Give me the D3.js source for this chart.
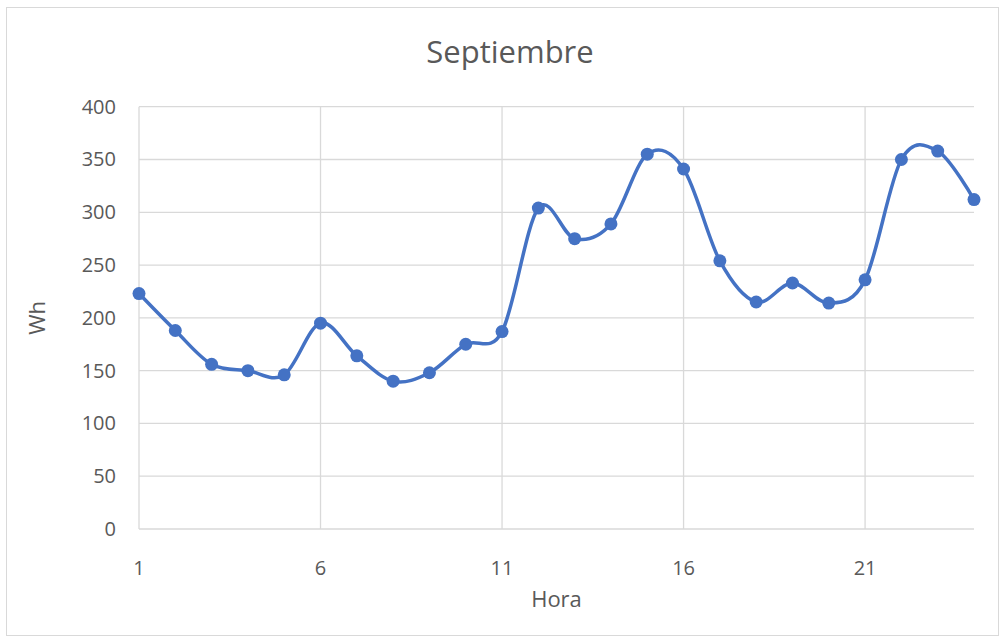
<!DOCTYPE html>
<html>
<head>
<meta charset="utf-8">
<script src="https://cdn.jsdelivr.net/npm/d3@7"></script>
<style>
  body { margin: 0; background: #fff; }
  svg text { font-family: "Open Sans", "Liberation Sans", sans-serif; fill: #595959; }
</style>
</head>
<body>
<svg id="container"></svg>
<script>
// horas del día y consumo medio en Wh (Septiembre)
const horas = d3.range(1, 25);
const wh = [223, 188, 156, 150, 146, 195, 164, 140, 148, 175, 187, 304,
            275, 289, 355, 341, 254, 215, 233, 214, 236, 350, 358, 312];
const xTicks = [1, 6, 11, 16, 21];
const yTicks = [0, 50, 100, 150, 200, 250, 300, 350, 400];

const width = 1005;
const height = 643;
const margin = { top: 106.7, right: 31, bottom: 114, left: 139 };

const svg = d3.select("#container")
    .attr("width", width)
    .attr("height", height);

// borde del gráfico
svg.append("rect")
    .attr("x", 6.5).attr("y", 7.5)
    .attr("width", width - 13).attr("height", height - 15)
    .attr("fill", "#fff")
    .attr("stroke", "#d9d9d9");

const x = d3.scaleLinear()
    .domain([1, 24])
    .range([margin.left, width - margin.right]);

const y = d3.scaleLinear()
    .domain([0, 400])
    .range([height - margin.bottom, margin.top]);

// rejilla horizontal
svg.append("g")
    .selectAll("line")
    .data(yTicks)
    .enter().append("line")
    .attr("x1", x(1)).attr("x2", x(24))
    .attr("y1", d => y(d)).attr("y2", d => y(d))
    .attr("stroke", "#d9d9d9")
    .attr("stroke-width", 1.3);

// rejilla vertical
svg.append("g")
    .selectAll("line")
    .data(xTicks)
    .enter().append("line")
    .attr("x1", d => x(d)).attr("x2", d => x(d))
    .attr("y1", y(0)).attr("y2", y(400))
    .attr("stroke", "#d9d9d9")
    .attr("stroke-width", 1.3);

// etiquetas eje y
svg.append("g")
    .selectAll("text")
    .data(yTicks)
    .enter().append("text")
    .attr("x", 116)
    .attr("y", d => y(d))
    .attr("dy", "0.35em")
    .attr("text-anchor", "end")
    .attr("font-size", 20)
    .text(d => d);

// etiquetas eje x
svg.append("g")
    .selectAll("text")
    .data(xTicks)
    .enter().append("text")
    .attr("x", d => x(d))
    .attr("y", 568)
    .attr("dy", "0.35em")
    .attr("text-anchor", "middle")
    .attr("font-size", 20)
    .text(d => d);

// títulos
svg.append("text")
    .attr("x", 510).attr("y", 52)
    .attr("dy", "0.35em")
    .attr("text-anchor", "middle")
    .attr("font-size", 31)
    .text("Septiembre");

svg.append("text")
    .attr("x", (x(1) + x(24)) / 2).attr("y", 599)
    .attr("dy", "0.35em")
    .attr("text-anchor", "middle")
    .attr("font-size", 22)
    .text("Hora");

svg.append("text")
    .attr("transform", `translate(37,${(y(0) + y(400)) / 2}) rotate(-90)`)
    .attr("dy", "0.35em")
    .attr("text-anchor", "middle")
    .attr("font-size", 22)
    .text("Wh");

// línea suavizada
const line = d3.line()
    .x((d, i) => x(horas[i]))
    .y(d => y(d))
    .curve(d3.curveCardinal.tension(0));

svg.append("path")
    .datum(wh)
    .attr("fill", "none")
    .attr("stroke", "#4472c4")
    .attr("stroke-width", 3.5)
    .attr("stroke-linejoin", "round")
    .attr("d", line);

svg.append("g")
    .selectAll("circle")
    .data(wh)
    .enter().append("circle")
    .attr("cx", (d, i) => x(horas[i]))
    .attr("cy", d => y(d))
    .attr("r", 6.5)
    .attr("fill", "#4472c4");
</script>
</body>
</html>
